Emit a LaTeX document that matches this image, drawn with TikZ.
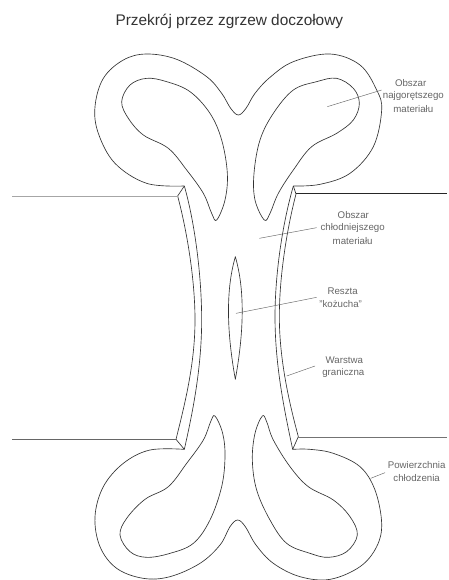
\documentclass[tikz,border=0pt]{standalone}
\usepackage{fontspec}
\setmainfont{Liberation Sans}
\definecolor{inkc}{gray}{0.2}
\definecolor{labc}{gray}{0.4}
\tikzset{
 outline/.style={draw=inkc,line width=0.65pt,line join=round},
 leader/.style={draw=labc,line width=0.45pt},
 lab/.style={text=labc,font=\fontsize{9.7}{11}\selectfont,inner sep=0pt,anchor=center},
 ttl/.style={text=inkc,font=\fontsize{15.4}{17}\selectfont,inner sep=0pt,anchor=center}
}
\begin{document}
\begin{tikzpicture}[x=0.33333pt,y=-0.33333pt]
\useasboundingbox[fill=white] (0,0) rectangle (1344,1740);
\node[ttl] (title) at (688,65) {Przekrój przez zgrzew doczołowy};
% upper outer
\draw[outline] plot[smooth,tension=0.6] coordinates {(553,558)(440,550)(345,490)(295,400)(285,320)(310,235)(370,180)(440,162)(530,178)(620,230)(665,280)(692,325)(715,345)(738,325)(765,280)(810,232)(880,185)(990,162)(1080,195)(1130,270)(1145,330)(1120,440)(1050,520)(960,553)(880,558)};
% upper inner
\draw[outline] plot[smooth cycle,tension=0.6] coordinates {(650,660)(675,600)(682,520)(665,420)(630,340)(570,275)(500,245)(440,235)(390,255)(365,305)(385,355)(430,405)(505,445)(560,510)(610,580)(635,640)};
\draw[outline] plot[smooth cycle,tension=0.6] coordinates {(793,660)(765,600)(762,520)(780,420)(820,340)(880,270)(950,245)(1010,235)(1060,265)(1078,310)(1060,360)(1010,400)(935,440)(880,510)(835,580)(810,640)};
% lower outer
\draw[outline] plot[smooth,tension=0.6] coordinates {(553,1348)(450,1350)(370,1390)(310,1460)(285,1550)(300,1640)(350,1705)(430,1735)(510,1730)(600,1690)(660,1635)(690,1580)(713,1560)(736,1580)(768,1635)(820,1690)(900,1730)(990,1738)(1080,1700)(1130,1640)(1145,1570)(1125,1470)(1080,1400)(1000,1360)(930,1348)(878,1348)};
% lower inner
\draw[outline] plot[smooth cycle,tension=0.6] coordinates {(645,1248)(668,1300)(675,1370)(665,1460)(630,1560)(580,1630)(510,1660)(440,1672)(390,1655)(360,1605)(380,1555)(435,1498)(505,1460)(560,1390)(610,1320)(632,1265)};
\draw[outline] plot[smooth cycle,tension=0.6] coordinates {(787,1248)(765,1300)(757,1380)(770,1470)(810,1560)(860,1630)(930,1660)(985,1672)(1040,1655)(1072,1605)(1050,1550)(1000,1500)(925,1460)(870,1400)(820,1320)(800,1265)};
% walls
\draw[outline] (553,558)--(533,588);
\draw[outline] (533,588) .. controls (565,710) and (585,850) .. (585,960) .. controls (585,1090) and (555,1210) .. (528,1318) -- (553,1348);
\draw[outline] (553,558) .. controls (585,670) and (605,830) .. (605,960) .. controls (605,1110) and (575,1250) .. (553,1348);
\draw[outline] (880,558) .. controls (845,680) and (825,830) .. (825,950) .. controls (825,1100) and (855,1240) .. (878,1348);
\draw[outline] (880,558)--(888,582) .. controls (860,690) and (838,830) .. (838,950) .. controls (838,1080) and (868,1210) .. (895,1310) -- (878,1348);
% plates
\draw[draw=gray!70,line width=1pt] (37,590)--(533,590);
\draw[draw=black!85,line width=1pt] (888,582)--(1340,582);
\draw[draw=black!60,line width=1pt] (37,1318)--(528,1318);
\draw[draw=black!55,line width=0.5pt] (895,1311)--(1340,1311);
% lens
\draw[outline] (706,770) .. controls (686,840) and (672,950) .. (706,1138) .. controls (740,950) and (726,840) .. (706,770) -- cycle;
% leaders
\draw[leader] (982,320)--(1145,270);
\draw[leader] (778,715)--(950,683);
\draw[leader] (708,940)--(950,892);
\draw[leader] (860,1128)--(945,1098);
\draw[leader] (1112,1435)--(1155,1418);
% labels
\node[lab] (l1a) at (1232,250) {Obszar};
\node[lab] (l1b) at (1240,288) {najgorętszego};
\node[lab] (l1c) at (1240,328) {materiału};
\node[lab] (l2a) at (1060,645) {Obszar};
\node[lab] (l2b) at (1058,685) {chłodniejszego};
\node[lab] (l2c) at (1058,722) {materiału};
\node[lab] (l3a) at (1028,875) {Reszta};
\node[lab] (l3b) at (1022,912) {"kożucha"};
\node[lab] (l4a) at (1033,1082) {Warstwa};
\node[lab] (l4b) at (1030,1120) {graniczna};
\node[lab] (l5a) at (1250,1396) {Powierzchnia};
\node[lab] (l5b) at (1250,1435) {chłodzenia};
\end{tikzpicture}
\end{document}
